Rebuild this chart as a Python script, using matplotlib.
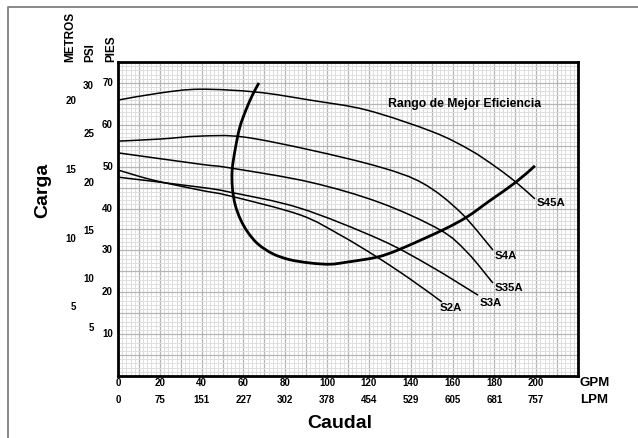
import matplotlib
matplotlib.use("Agg")
import matplotlib.pyplot as plt
from matplotlib.ticker import MultipleLocator
from matplotlib.lines import Line2D
from matplotlib.path import Path
from matplotlib.patches import PathPatch
import matplotlib.transforms as mtransforms

# ---------------- data (GPM, feet) ----------------
s45a_gpm = [0, 20.1, 39.2, 66.5, 91.8, 119.1, 150.6, 168.3, 180.8, 190.3, 199.4]
s45a_ft = [65.9, 67.6, 68.5, 67.8, 65.9, 63.5, 58.3, 54.0, 49.9, 46.3, 42.3]

s4a_gpm = [0, 20.1, 39.2, 59.8, 91.8, 125.3, 145.9, 163.6, 179.3]
s4a_ft = [56.1, 56.6, 57.3, 57.1, 54.0, 49.9, 46.0, 39.2, 30.1]

s35a_gpm = [0, 39.2, 53.6, 91.8, 125.3, 154.0, 166.9, 179.3]
s35a_ft = [53.3, 50.6, 49.7, 46.3, 41.4, 34.9, 29.6, 22.2]

s3a_gpm = [0, 39.2, 53.6, 87.0, 125.3, 149.2, 172.2]
s3a_ft = [47.5, 45.1, 43.9, 40.1, 32.6, 26.3, 19.3]

s2a_gpm = [0, 16.7, 39.2, 53.6, 87.0, 106.2, 123.9, 139.6, 154.9]
s2a_ft = [49.2, 46.8, 44.4, 43.0, 38.5, 33.7, 28.4, 23.2, 17.7]

eff_gpm = [67.4, 64.4, 61.0, 58.2, 56.0, 54.6, 54.7, 56.0, 58.5, 62.0, 67.0,
           74.0, 82.0, 91.8, 101.4, 109.5, 123.9, 134.9, 155.4, 166.9, 177.9, 190.3, 199.4]
eff_ft = [70.0, 67.2, 63.3, 59.3, 54.0, 49.2, 45.0, 41.0, 37.5, 34.4, 31.5,
          29.2, 27.8, 27.0, 26.7, 27.2, 28.4, 30.3, 34.9, 38.0, 41.9, 46.3, 50.2]

curve_names = ["S45A", "S4A", "S35A", "S3A", "S2A"]
label_gpm = [200.4, 180.3, 180.3, 173.1, 154.0]
label_ft = [41.3, 28.7, 21.0, 17.4, 16.2]

gpm_ticks = [0, 20, 40, 60, 80, 100, 120, 140, 160, 180, 200]
lpm_labels = ["0", "75", "151", "227", "302", "378", "454", "529", "605", "681", "757"]
pies_ticks = [10, 20, 30, 40, 50, 60, 70]
psi_ticks = [5, 10, 15, 20, 25, 30]
metros_ticks = [5, 10, 15, 20]
FT_PER_PSI = 2.31
FT_PER_M = 3.281


def smooth_path(xs, ys):
    """Bezier path passing through every given point (Catmull-Rom style handles)."""
    pts = list(zip(xs, ys))
    n = len(pts)
    verts = [pts[0]]
    codes = [Path.MOVETO]
    for i in range(n - 1):
        p0 = pts[i - 1] if i > 0 else pts[i]
        p1 = pts[i]
        p2 = pts[i + 1]
        p3 = pts[i + 2] if i + 2 < n else pts[i + 1]
        c1 = (p1[0] + (p2[0] - p0[0]) / 6, p1[1] + (p2[1] - p0[1]) / 6)
        c2 = (p2[0] - (p3[0] - p1[0]) / 6, p2[1] - (p3[1] - p1[1]) / 6)
        verts += [c1, c2, p2]
        codes += [Path.CURVE4] * 3
    return Path(verts, codes)


# ---------------- figure ----------------
W, H = 638, 438
fig = plt.figure(figsize=(W / 100, H / 100), dpi=100)
fig.patch.set_facecolor("white")
L, R, T, B = 118, 578, 62, 376
ax = fig.add_axes([L / W, 1 - B / H, (R - L) / W, (B - T) / H])
ax.set_xlim(0, 220)
ax.set_ylim(0, 75)

ax.xaxis.set_major_locator(MultipleLocator(10))
ax.xaxis.set_minor_locator(MultipleLocator(2))
ax.yaxis.set_major_locator(MultipleLocator(5))
ax.yaxis.set_minor_locator(MultipleLocator(1))
ax.grid(which="minor", color="#dedede", lw=0.7)
ax.grid(which="major", color="#b5b5b5", lw=0.9)
ax.set_axisbelow(True)
ax.tick_params(which="both", length=0, labelbottom=False, labelleft=False)
for sp in ax.spines.values():
    sp.set_linewidth(2.0)
    sp.set_color("black")

narrow = ["Liberation Sans Narrow", "Liberation Sans", "DejaVu Sans"]
wide = ["Liberation Sans", "DejaVu Sans"]

for gx, gy in [(s45a_gpm, s45a_ft), (s4a_gpm, s4a_ft), (s35a_gpm, s35a_ft),
               (s3a_gpm, s3a_ft), (s2a_gpm, s2a_ft)]:
    ax.add_patch(PathPatch(smooth_path(gx, gy), fill=False, edgecolor="black",
                           lw=1.1, capstyle="butt", zorder=3))
ax.add_patch(PathPatch(smooth_path(eff_gpm, eff_ft), fill=False, edgecolor="black",
                       lw=2.0, capstyle="butt", joinstyle="round", zorder=4))

for name, gx, gy in zip(curve_names, label_gpm, label_ft):
    ax.text(gx, gy, name, fontsize=8.2, fontweight="bold", family=wide,
            ha="left", va="center", zorder=5)
ax.text(129.1, 65.0, "Rango de Mejor Eficiencia", fontsize=8.8, fontweight="bold",
        family=wide, ha="left", va="center", zorder=5)

# x tick labels
tx = mtransforms.blended_transform_factory(ax.transData, ax.transAxes)
for g, lp in zip(gpm_ticks, lpm_labels):
    ax.text(g, -7 / 314, str(g), transform=tx, ha="center", va="center",
            fontsize=7, fontweight="bold", family=narrow)
    ax.text(g, -24 / 314, lp, transform=tx, ha="center", va="center",
            fontsize=7, fontweight="bold", family=narrow)
ax.text(1.004, -7 / 314, "GPM", transform=ax.transAxes, ha="left", va="center",
        fontsize=9.5, fontweight="bold", family=narrow)
ax.text(1.004, -24 / 314, "LPM", transform=ax.transAxes, ha="left", va="center",
        fontsize=9.5, fontweight="bold", family=narrow)

# y tick labels
ty = mtransforms.blended_transform_factory(ax.transAxes, ax.transData)
for v in pies_ticks:
    ax.text(-5 / 460, v, str(v), transform=ty, ha="right", va="center",
            fontsize=7, fontweight="bold", family=narrow)
for v in psi_ticks:
    ax.text(-24 / 460, v * FT_PER_PSI, str(v), transform=ty, ha="right", va="center",
            fontsize=7, fontweight="bold", family=narrow)
for v in metros_ticks:
    ax.text(-42 / 460, v * FT_PER_M, str(v), transform=ty, ha="right", va="center",
            fontsize=7, fontweight="bold", family=narrow)

for txt, xp in [("METROS", 70.5), ("PSI", 90), ("PIES", 111)]:
    ax.text((xp - L) / 460, 1.0, txt, transform=ax.transAxes, rotation=90,
            ha="center", va="bottom", fontsize=8.5, fontweight="bold", family=narrow)

fig.text(43 / W, 1 - 190 / H, "Carga", rotation=90, ha="center", va="center",
         fontsize=14, fontweight="bold", family=narrow)
fig.text(340 / W, 1 - 423 / H, "Caudal", ha="center", va="center",
         fontsize=14, fontweight="bold", family=narrow)

# outer frame (left and top)
fig.add_artist(Line2D([8 / W, 8 / W, 1.0], [0.0, 1 - 7 / H, 1 - 7 / H],
                      transform=fig.transFigure, color="#808080", lw=1.3))

fig.savefig("out.png", dpi=100)
